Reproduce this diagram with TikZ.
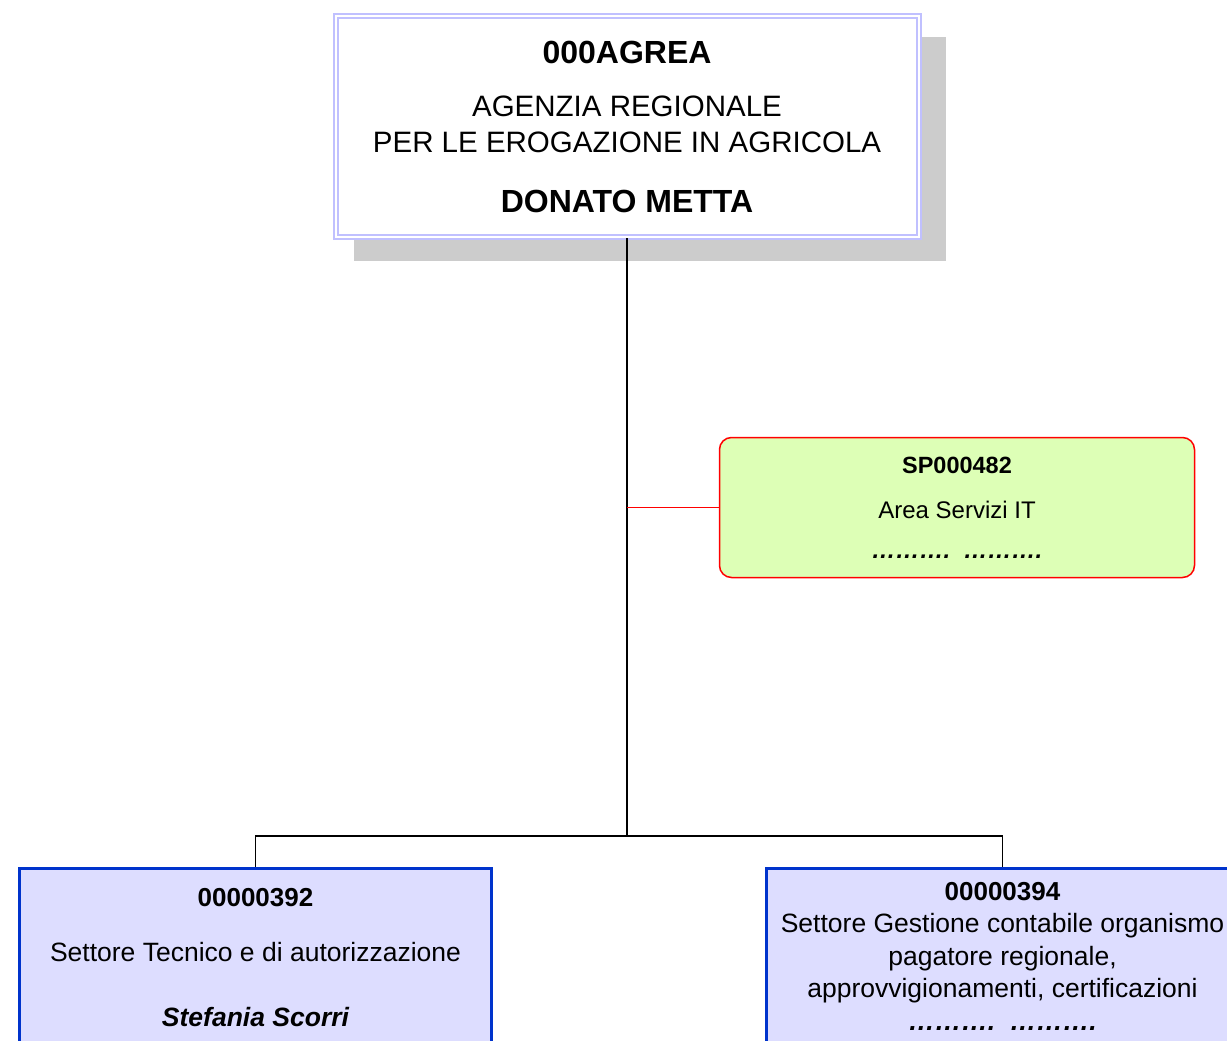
\documentclass[tikz,border=0pt]{standalone}
\usepackage{fontspec}
\setmainfont{Liberation Sans}
\usepackage{tikz}
\usetikzlibrary{positioning,shadows}

\definecolor{rootline}{RGB}{192,192,255}
\definecolor{shadowgray}{RGB}{204,204,204}
\definecolor{itfill}{RGB}{221,255,182}
\definecolor{settfill}{RGB}{221,221,255}
\definecolor{settline}{RGB}{0,51,204}

\begin{document}
\begin{tikzpicture}[x=1pt, y=-1pt,
  rootbox/.style={draw=rootline, double=white, double distance=2pt, line width=2pt,
    fill=white, minimum width=583pt, minimum height=221pt, align=center, inner sep=0pt,
    font=\fontsize{29.5}{36}\selectfont,
    drop shadow={shadow xshift=23pt, shadow yshift=-22pt, shadow scale=1.015,
      fill=shadowgray, opacity=1}},
  areabox/.style={draw=red, line width=1.5pt, fill=itfill, rounded corners=12pt,
    minimum width=475pt, minimum height=140pt, align=center, inner sep=0pt,
    font=\fontsize{24}{30}\selectfont},
  settbox/.style={draw=settline, line width=3pt, fill=settfill, anchor=north,
    minimum width=472pt, align=center, inner xsep=0pt, inner ysep=14pt,
    font=\fontsize{26.5}{32.5}\selectfont},
  wire/.style={line width=1.4pt}]
  \clip (0,0) rectangle (1227,1041);
  \useasboundingbox (0,0) rectangle (1227,1041);

  % vertice
  \node[rootbox] (root) at (627,126.5)
    {{\fontsize{32}{36}\selectfont\bfseries 000AGREA}\\[17pt]
     AGENZIA REGIONALE\\
     PER LE EROGAZIONE IN AGRICOLA\\[24pt]
     {\fontsize{32}{36}\selectfont\bfseries DONATO METTA}};

  % staff
  \node[areabox] (it) at (957,507.5)
    {{\fontsize{23.5}{30}\selectfont\bfseries SP000482}\\[15pt]
     Area Servizi IT\\[10pt]
     {\bfseries\itshape ……….~~……….}};

  % settori
  \node[settbox, inner ysep=20pt] (tecnico) at (255.5,866.5)
    {{\fontsize{26}{32.5}\selectfont\bfseries 00000392}\\[23pt]
     Settore Tecnico e di autorizzazione\\[32pt]
     {\bfseries\itshape Stefania Scorri}\\[8pt]};
  \node[settbox] (contabile) at (1002.5,866.5)
    {{\fontsize{26}{32.5}\selectfont\bfseries 00000394}\\
     Settore Gestione contabile organismo\\
     pagatore regionale,\\
     approvvigionamenti, certificazioni\\
     {\bfseries\itshape ……….~~……….}\\[8pt]};

  \coordinate (bus) at (627,836);

  \draw[wire] (root.south) -- (bus);
  \draw[wire] (tecnico.north) |- (bus) -| (contabile.north);
  \draw[wire, red] (root.south |- it.west) -- (it.west);
\end{tikzpicture}
\end{document}
